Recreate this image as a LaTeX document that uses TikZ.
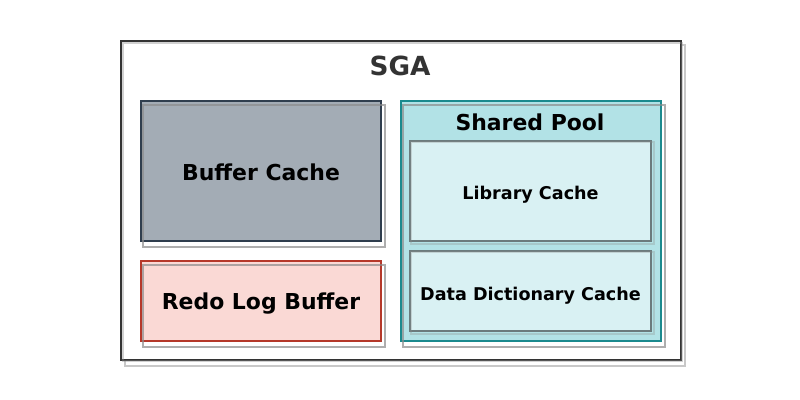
\documentclass[tikz,border=0pt]{standalone}
\usepackage{fontspec}
\setmainfont{DejaVu Sans}
\usetikzlibrary{fit}
\definecolor{sgaline}{HTML}{333333}
\definecolor{bcfill}{HTML}{A3ACB5}
\definecolor{bcline}{HTML}{2F3E4E}
\definecolor{rlfill}{HTML}{FAD9D5}
\definecolor{rlline}{HTML}{B5382A}
\definecolor{spfill}{HTML}{B2E2E6}
\definecolor{spline}{HTML}{1B8A8E}
\definecolor{lcfill}{HTML}{D9F1F3}
\definecolor{lcline}{HTML}{6B7B7D}
\begin{document}
\begin{tikzpicture}[x=0.025cm,y=-0.025cm,
    area/.style={draw,line width=1pt,inner sep=0pt},
    ghost/.style={draw=gray!90,line width=1.3pt,opacity=0.7},
    big/.style={font=\bfseries\fontsize{15.6}{18}\selectfont},
    small/.style={font=\bfseries\fontsize{12.5}{14}\selectfont}]
  \useasboundingbox[fill=white] (0,0) rectangle (800,400);
  % SGA
  \draw[ghost,draw=gray!60] (125,45) rectangle (685,366);
  \node[area,draw=sgaline,fill=white,fit={(121,41) (681,360)}] (sga) {};
  \draw[ghost,opacity=0.4] ([shift={(3,3)}]sga.north west) rectangle ([shift={(0,0)}]sga.south east);
  \node[text=sgaline,font=\bfseries\fontsize{18.7}{22}\selectfont] (sgat) at (400,66) {SGA};
  % Buffer Cache
  \node[area,draw=bcline,fill=bcfill,fit={(141,101) (381,241)}] (bc) {};
  \draw[ghost] ([shift={(3,5)}]bc.north west) rectangle ([shift={(3,5)}]bc.south east);
  \node[big] (bct) at ([yshift=-1]bc.center) {Buffer Cache};
  % Redo Log Buffer
  \node[area,draw=rlline,fill=rlfill,fit={(141,261) (381,341)}] (rl) {};
  \draw[ghost] ([shift={(3,5)}]rl.north west) rectangle ([shift={(3,5)}]rl.south east);
  \node[big] (rlt) at ([yshift=-2]rl.center) {Redo Log Buffer};
  % Shared Pool
  \node[area,draw=spline,fill=spfill,fit={(401,101) (661,341)}] (sp) {};
  \draw[ghost] ([shift={(3,5)}]sp.north west) rectangle ([shift={(3,5)}]sp.south east);
  \node[big] (spt) at (530,122) {Shared Pool};
  % Library Cache
  \node[area,draw=lcline,fill=lcfill,fit={(410,141) (651,241)}] (lc) {};
  \draw[ghost,opacity=0.3] ([shift={(2,2)}]lc.north west) rectangle ([shift={(2,2)}]lc.south east);
  \node[small] (lct) at ([yshift=-3]lc.center) {Library Cache};
  % Data Dictionary Cache
  \node[area,draw=lcline,fill=lcfill,fit={(410,251) (651,331)}] (dd) {};
  \draw[ghost,opacity=0.3] ([shift={(2,2)}]dd.north west) rectangle ([shift={(2,2)}]dd.south east);
  \node[small] (ddt) at ([yshift=-3]dd.center) {Data Dictionary Cache};
\end{tikzpicture}
\end{document}
